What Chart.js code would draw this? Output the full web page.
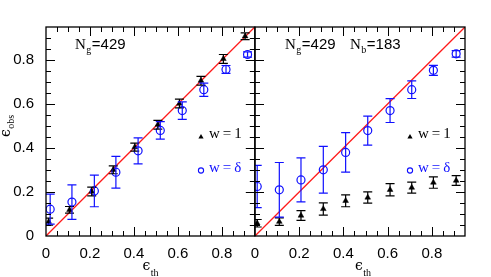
<!DOCTYPE html>
<html>
<head>
<meta charset="utf-8">
<script src="https://cdn.jsdelivr.net/npm/chart.js@4.4.0/dist/chart.umd.min.js"></script>
<style>
  html, body { margin: 0; padding: 0; background: #fff; }
  #wrap { position: relative; width: 491px; height: 277px; overflow: hidden; }
  canvas { position: absolute; top: 0; }
</style>
</head>
<body>
<div id="wrap">
  <canvas id="left" width="260" height="277" style="left:0"></canvas>
  <canvas id="right" width="266" height="277" style="left:225px"></canvas>
</div>
<script>
// tick labels (both axes, both panels)
const tickVals = [0, 0.2, 0.4, 0.6, 0.8];

// reference line y = x
const diagX = [0, 0.95];
const diagY = [0, 0.95];

// left panel: all galaxies
const thLeftW1  = [0.012, 0.107, 0.208, 0.306, 0.404, 0.509, 0.607, 0.705, 0.807, 0.906];
const obsLeftW1 = [0.065, 0.119, 0.202, 0.301, 0.404, 0.506, 0.602, 0.706, 0.805, 0.908];
const errLeftW1 = [0.016, 0.015, 0.020, 0.018, 0.018, 0.020, 0.020, 0.020, 0.020, 0.015];
const thLeftWd  = [0.019, 0.118, 0.220, 0.318, 0.419, 0.520, 0.620, 0.718, 0.819, 0.917];
const obsLeftWd = [0.122, 0.154, 0.205, 0.290, 0.387, 0.480, 0.570, 0.665, 0.757, 0.825];
const errLeftWd = [0.068, 0.078, 0.072, 0.072, 0.059, 0.040, 0.040, 0.030, 0.018, 0.012];

// right panel: galaxies + background
const thRight    = [0.010, 0.110, 0.208, 0.309, 0.410, 0.510, 0.611, 0.709, 0.807, 0.910];
const obsRightW1 = [0.058, 0.065, 0.093, 0.123, 0.160, 0.175, 0.210, 0.220, 0.243, 0.252];
const errRightW1 = [0.017, 0.017, 0.022, 0.028, 0.027, 0.026, 0.028, 0.025, 0.026, 0.022];
const obsRightWd = [0.225, 0.210, 0.255, 0.301, 0.380, 0.479, 0.570, 0.665, 0.753, 0.828];
const errRightWd = [0.096, 0.124, 0.100, 0.106, 0.090, 0.066, 0.054, 0.040, 0.023, 0.015];

const BLUE = '#1010ff';
const tickFont = { family: 'Liberation Sans, Arial, sans-serif', size: 15 };

const toXY = (xs, ys) => xs.map((x, i) => ({ x, y: ys[i] }));

// vertical error bars with caps, read from dataset.errors
const errorBars = {
  id: 'errorBars',
  afterDatasetsDraw(chart) {
    const { ctx, scales: { x, y } } = chart;
    ctx.save();
    ctx.beginPath();
    ctx.rect(chart.chartArea.left, chart.chartArea.top, chart.chartArea.width, chart.chartArea.height);
    ctx.clip();
    chart.data.datasets.forEach(ds => {
      if (!ds.errors) return;
      ctx.strokeStyle = ds.borderColor;
      ctx.lineWidth = 1.2;
      ds.data.forEach((p, j) => {
        const px = x.getPixelForValue(p.x);
        const t = y.getPixelForValue(p.y + ds.errors[j]);
        const b = y.getPixelForValue(p.y - ds.errors[j]);
        ctx.beginPath();
        ctx.moveTo(px, t); ctx.lineTo(px, b);
        ctx.moveTo(px - 4.5, t); ctx.lineTo(px + 4.5, t);
        ctx.moveTo(px - 4.5, b); ctx.lineTo(px + 4.5, b);
        ctx.stroke();
      });
    });
    ctx.restore();
  }
};

// box with inward ticks on all four sides
const frameTicks = {
  id: 'frameTicks',
  afterDraw(chart) {
    const { ctx, chartArea: a, scales: { x, y } } = chart;
    ctx.save();
    ctx.strokeStyle = '#000';
    ctx.lineWidth = 1;
    ctx.beginPath();
    for (let k = 1; k <= 19; k++) {
      const v = k * 0.05;
      const len = (k % 4 === 0) ? 9 : 5;
      const px = Math.round(x.getPixelForValue(v)) + 0.5;
      const py = Math.round(y.getPixelForValue(v)) + 0.5;
      if (px < a.right - 1) {
        ctx.moveTo(px, a.bottom); ctx.lineTo(px, a.bottom - len);
        ctx.moveTo(px, a.top); ctx.lineTo(px, a.top + len);
      }
      if (py > a.top + 1) {
        ctx.moveTo(a.left, py); ctx.lineTo(a.left + len, py);
        ctx.moveTo(a.right, py); ctx.lineTo(a.right - len, py);
      }
    }
    ctx.stroke();
    ctx.lineWidth = 1.3;
    ctx.strokeRect(a.left, a.top, a.width, a.height);
    ctx.restore();
  }
};

function subText(ctx, x, y, main, sub, mainFont, subFont, drop) {
  ctx.font = mainFont;
  ctx.fillText(main, x, y);
  const w = ctx.measureText(main).width;
  ctx.font = subFont;
  ctx.fillText(sub, x + w + 0.5, y + drop);
  return x + w + 0.5 + ctx.measureText(sub).width;
}

const SERIF = '15px "Liberation Serif", "DejaVu Serif", serif';
const SANS = '15px "Liberation Sans", Arial, sans-serif';
const SUB = '10px "Liberation Serif", "DejaVu Serif", serif';
const EPS = '14px "DejaVu Serif", serif';

// annotations, legend and axis titles
const texts = {
  id: 'texts',
  afterDraw(chart) {
    const { ctx, chartArea: a } = chart;
    const o = chart.options.plugins.texts;
    ctx.save();
    ctx.fillStyle = '#000';
    ctx.textBaseline = 'alphabetic';
    // N labels
    o.notes.forEach(n => {
      const xe = subText(ctx, a.left + n.dx, a.top + 22, 'N', n.sub, SERIF, SUB, 4);
      ctx.font = SANS;
      ctx.fillText('=' + n.val, xe + 0.5, a.top + 22);
    });
    // legend
    const lx = a.left + o.legendDx;
    ctx.beginPath();
    ctx.moveTo(lx, a.top + 107); ctx.lineTo(lx + 2.6, a.top + 111.5); ctx.lineTo(lx - 2.6, a.top + 111.5);
    ctx.closePath(); ctx.fill();
    ctx.font = SERIF;
    ctx.fillText('w\u2009=\u20091', lx + 8, a.top + 111);
    ctx.strokeStyle = BLUE; ctx.lineWidth = 1.1;
    ctx.beginPath(); ctx.arc(lx, a.top + 143.5, 2.6, 0, Math.PI * 2); ctx.stroke();
    ctx.fillStyle = BLUE;
    ctx.fillText('w\u2009=\u2009\u03b4', lx + 8, a.top + 145);
    ctx.fillStyle = '#000';
    // x title
    subText(ctx, (a.left + a.right) / 2 + o.xTitleDx, 270, '\u03f5', 'th', EPS, SUB, 5.5);
    // y title
    if (o.yTitle) {
      ctx.translate(10, 137);
      ctx.rotate(-Math.PI / 2);
      subText(ctx, 0, 0, '\u03f5', 'obs', EPS, SUB, 4);
    }
    ctx.restore();
  }
};

function makeChart(id, c) {
  return new Chart(document.getElementById(id), {
    type: 'scatter',
    data: {
      datasets: [
        { data: toXY(diagX, diagY), showLine: true, borderColor: '#ff1a1a', borderWidth: 1.3,
          pointRadius: 0, order: 3 },
        { data: toXY(c.xw1, c.yw1), errors: c.ew1, pointStyle: 'triangle', pointRadius: 3.3,
          backgroundColor: '#000', borderColor: '#000', borderWidth: 0.5, order: 2 },
        { data: toXY(c.xwd, c.ywd), errors: c.ewd, pointStyle: 'circle', pointRadius: 4,
          backgroundColor: 'rgba(0,0,0,0)', borderColor: BLUE, borderWidth: 1.2, order: 1 }
      ]
    },
    options: {
      responsive: false,
      animation: false,
      layout: { padding: { left: 0, top: 27, right: c.padRight, bottom: 0 } },
      plugins: {
        legend: { display: false },
        tooltip: { enabled: false },
        texts: c.texts
      },
      scales: {
        x: {
          type: 'linear', min: 0, max: 0.95,
          grid: { display: false, drawTicks: false },
          border: { display: false },
          afterBuildTicks: s => { s.ticks = tickVals.map(v => ({ value: v })); },
          afterFit: s => { s.height = 41; },
          ticks: { padding: 9, font: tickFont, color: '#000', maxRotation: 0, callback: v => String(v) }
        },
        y: {
          type: 'linear', min: 0, max: 0.95,
          grid: { display: false, drawTicks: false },
          border: { display: false },
          afterBuildTicks: s => { s.ticks = tickVals.map(v => ({ value: v })); },
          afterFit: s => { s.width = c.yWidth; },
          ticks: { display: c.yLabels, padding: 12, font: tickFont, color: '#000', callback: v => String(v) }
        }
      }
    },
    plugins: [errorBars, frameTicks, texts]
  });
}

makeChart('left', {
  xw1: thLeftW1, yw1: obsLeftW1, ew1: errLeftW1,
  xwd: thLeftWd, ywd: obsLeftWd, ewd: errLeftWd,
  padRight: 5, yWidth: 46, yLabels: true,
  texts: { notes: [{ dx: 29, sub: 'g', val: '429' }], legendDx: 155, xTitleDx: -8, yTitle: true }
});

makeChart('right', {
  xw1: thRight, yw1: obsRightW1, ew1: errRightW1,
  xwd: thRight, ywd: obsRightWd, ewd: errRightWd,
  padRight: 26, yWidth: 30, yLabels: false,
  texts: { notes: [{ dx: 30, sub: 'g', val: '429' }, { dx: 95, sub: 'b', val: '183' }],
           legendDx: 155, xTitleDx: -5, yTitle: false }
});
</script>
</body>
</html>
